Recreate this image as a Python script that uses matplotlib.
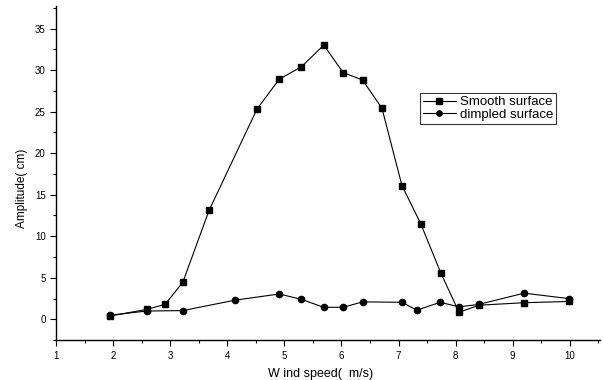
import matplotlib.pyplot as plt
from matplotlib.ticker import MultipleLocator

plt.rcParams['font.family'] = ['Liberation Sans', 'DejaVu Sans']

# wind speed (m/s) and amplitude (cm)
smooth_x = [1.95, 2.59, 2.91, 3.22, 3.68, 4.52, 4.91, 5.30, 5.69, 6.03,
            6.37, 6.71, 7.06, 7.39, 7.74, 8.06, 8.41, 9.20, 9.98]
smooth_y = [0.4, 1.2, 1.8, 4.45, 13.1, 25.3, 28.9, 30.4, 33.0, 29.7,
            28.8, 25.4, 16.1, 11.5, 5.6, 0.85, 1.7, 2.0, 2.15]

dimpled_x = [1.95, 2.59, 3.22, 4.13, 4.91, 5.30, 5.69, 6.03, 6.37, 7.06,
             7.32, 7.73, 8.06, 8.41, 9.20, 9.98]
dimpled_y = [0.5, 1.0, 1.05, 2.3, 3.05, 2.4, 1.45, 1.45, 2.1, 2.05,
             1.1, 2.05, 1.5, 1.8, 3.15, 2.5]

fig = plt.figure(figsize=(6.03, 3.8), dpi=100)
ax = fig.add_axes([0.093, 0.105, 0.902, 0.879])

ax.plot(smooth_x, smooth_y, color='black', lw=0.8, marker='s', ms=4.5,
        label='Smooth surface')
ax.plot(dimpled_x, dimpled_y, color='black', lw=0.8, marker='o', ms=4.5,
        label='dimpled surface')

ax.set_xlim(1, 10.53)
ax.set_ylim(-2.5, 37.7)
ax.xaxis.set_major_locator(MultipleLocator(1))
ax.xaxis.set_minor_locator(MultipleLocator(0.5))
ax.yaxis.set_major_locator(MultipleLocator(5))
ax.yaxis.set_minor_locator(MultipleLocator(2.5))
ax.tick_params(which='major', length=4, width=0.8, labelsize=7, direction='out')
ax.tick_params(which='minor', length=2.5, width=0.8, direction='out')

for side in ['top', 'right']:
    ax.spines[side].set_visible(False)
for side in ['left', 'bottom']:
    ax.spines[side].set_linewidth(1.0)

ax.set_xlabel('W ind speed(  m/s)', fontsize=9)
ax.set_ylabel('Amplitude( cm)', fontsize=8.5)
ax.xaxis.set_label_coords(0.487, -0.085)
ax.yaxis.set_label_coords(-0.052, 0.455)

leg = ax.legend(loc='upper left', bbox_to_anchor=(0.669, 0.739), fontsize=9.5,
                frameon=True, fancybox=False, edgecolor='black',
                handlelength=2.5, handletextpad=0.3, borderpad=0.2,
                labelspacing=0.05, borderaxespad=0, markerscale=0.85)
leg.get_frame().set_linewidth(0.8)

fig.savefig('out.png', dpi=100)
